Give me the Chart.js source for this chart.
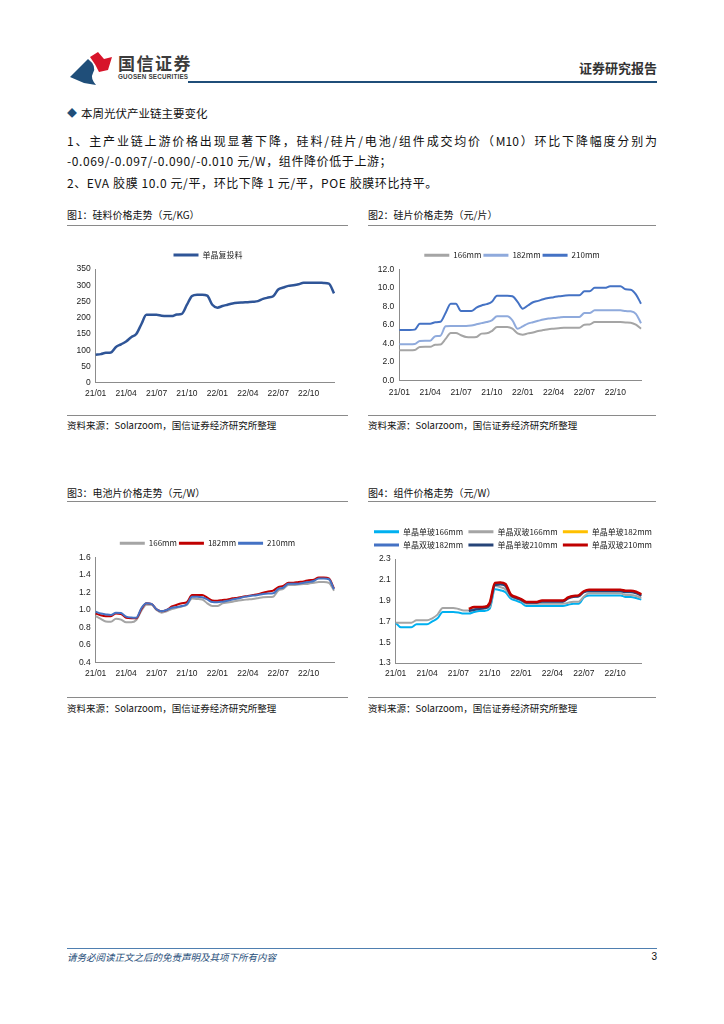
<!DOCTYPE html>
<html><head><meta charset="utf-8">
<script src="https://cdn.jsdelivr.net/npm/chart.js@4.4.0/dist/chart.umd.min.js"></script>
<style>
html,body{margin:0;padding:0;background:#fff;}
body{width:724px;height:1024px;position:relative;overflow:hidden;font-family:"Noto Sans CJK SC","Noto Sans",sans-serif;color:#111;}
.abs{position:absolute;white-space:nowrap;}
.title{font-size:10px;line-height:14px;color:#111;}
.src{font-size:9.5px;line-height:14px;color:#111;}
.rule{position:absolute;height:1px;background:#8a8a8a;}
.body{font-size:12px;line-height:16px;letter-spacing:0.6px;}
canvas{position:absolute;}
</style></head>
<body>
<svg class="abs" style="left:66px;top:48px" width="50" height="40" viewBox="66 48 50 40">
  <path d="M70,77 L88,59 Q97,66 93,73 Q90,78 96,85 L84,83 Z" fill="#1f4e79"/>
  <path d="M90,57 L98,52 L104,59 L112,57 L108,70 L99,72 Q96,65 90,57 Z" fill="#d7142a"/>
</svg>
<div class="abs" style="left:118px;top:52px;font-size:17px;line-height:22px;font-weight:700;color:#3c3c3c;letter-spacing:1.5px">国信证券</div>
<div class="abs" style="left:118px;top:73px;font-size:6.3px;line-height:8px;font-weight:700;color:#3c3c3c;letter-spacing:0.2px;font-family:'Liberation Sans',sans-serif">GUOSEN SECURITIES</div>
<div class="abs" style="right:67px;top:59px;font-size:13px;line-height:18px;font-weight:700;color:#333">证券研究报告</div>
<div class="abs" style="left:188px;top:81px;width:469px;height:2px;background:#1f4e79"></div>

<div class="abs" style="left:67px;top:105px;font-size:10px;line-height:16px;color:#1f4e79">◆</div>
<div class="abs" style="left:81px;top:105px;font-size:11.5px;line-height:16px">本周光伏产业链主要变化</div>
<div class="abs body" style="left:67px;top:133px;width:590px;text-align:justify;text-align-last:justify;letter-spacing:0">1、主产业链上游价格出现显著下降，硅料/硅片/电池/组件成交均价（M10）环比下降幅度分别为</div>
<div class="abs body" style="left:67px;top:153px">-0.069/-0.097/-0.090/-0.010 元/W，组件降价低于上游；</div>
<div class="abs body" style="left:67px;top:175px">2、EVA 胶膜 10.0 元/平，环比下降 1 元/平，POE 胶膜环比持平。</div>

<div class="abs title" style="left:67px;top:208px">图1：硅料价格走势（元/KG）</div>
<div class="rule" style="left:67px;top:225px;width:281px"></div>
<div class="abs title" style="left:368px;top:208px">图2：硅片价格走势（元/片）</div>
<div class="rule" style="left:368px;top:225px;width:288px"></div>
<canvas id="c1" width="292" height="167" style="left:62px;top:236px"></canvas>
<canvas id="c2" width="288" height="165" style="left:368px;top:236px"></canvas>
<div class="rule" style="left:67px;top:415px;width:281px"></div>
<div class="rule" style="left:368px;top:415px;width:288px"></div>
<div class="abs src" style="left:67px;top:418px">资料来源：Solarzoom，国信证券经济研究所整理</div>
<div class="abs src" style="left:368px;top:418px">资料来源：Solarzoom，国信证券经济研究所整理</div>

<div class="abs title" style="left:67px;top:486px">图3：电池片价格走势（元/W）</div>
<div class="rule" style="left:67px;top:501px;width:281px"></div>
<div class="abs title" style="left:368px;top:486px">图4：组件价格走势（元/W）</div>
<div class="rule" style="left:368px;top:501px;width:288px"></div>
<canvas id="c3" width="291" height="171" style="left:62px;top:512px"></canvas>
<canvas id="c4" width="290" height="171" style="left:368px;top:512px"></canvas>
<div class="rule" style="left:67px;top:697px;width:281px"></div>
<div class="rule" style="left:368px;top:697px;width:288px"></div>
<div class="abs src" style="left:67px;top:701px">资料来源：Solarzoom，国信证券经济研究所整理</div>
<div class="abs src" style="left:368px;top:701px">资料来源：Solarzoom，国信证券经济研究所整理</div>

<div class="abs" style="left:67px;top:948px;width:590px;height:1px;background:#4f7fb0"></div>
<div class="abs" style="left:67px;top:950px;font-size:9.5px;line-height:14px;font-style:italic;color:#1f4e79">请务必阅读正文之后的免责声明及其项下所有内容</div>
<div class="abs" style="right:67px;top:950px;font-size:10px;line-height:14px;color:#111;font-family:'Liberation Sans',sans-serif">3</div>

<script>
// ---- categories (half-month periods) ----
const periods = [
 '21/01/01','21/01/16','21/02/01','21/02/16','21/03/01','21/03/16','21/04/01','21/04/16',
 '21/05/01','21/05/16','21/06/01','21/06/16','21/07/01','21/07/16','21/08/01','21/08/16',
 '21/09/01','21/09/16','21/10/01','21/10/16','21/11/01','21/11/16','21/12/01','21/12/16',
 '22/01/01','22/01/16','22/02/01','22/02/16','22/03/01','22/03/16','22/04/01','22/04/16',
 '22/05/01','22/05/16','22/06/01','22/06/16','22/07/01','22/07/16','22/08/01','22/08/16',
 '22/09/01','22/09/16','22/10/01','22/10/16','22/11/01','22/11/16','22/12/01','22/12/16'];
const quarterTicks = ['21/01','21/04','21/07','21/10','22/01','22/04','22/07','22/10'];

// ---- 图1 硅料 ----
const polyMono = [86,88,92,93,110,118,127,140,150,180,209,209,209,206,205,205,210,212,240,267,271,271,268,240,
 231,236,240,244,246,247,248,249,251,258,262,266,287,293,298,300,303,308,308,308,308,307,305,275];

// ---- 图2 硅片 ----
const wafer166 = [3.27,3.27,3.27,3.3,3.63,3.65,3.65,3.88,3.9,4.5,5.14,5.14,4.9,4.7,4.67,4.7,5.07,5.1,5.35,5.78,5.78,5.78,5.6,5.1,
 4.96,5.1,5.2,5.35,5.45,5.55,5.6,5.65,5.7,5.71,5.71,5.71,6.03,6.05,6.32,6.32,6.32,6.32,6.32,6.32,6.28,6.25,6.03,5.6];
const wafer182 = [3.92,3.92,3.92,3.95,4.28,4.3,4.3,4.8,4.85,5.86,5.9,5.9,5.9,5.9,5.95,6.07,6.2,6.32,6.5,6.93,6.93,6.93,6.5,5.6,
 5.85,6.15,6.3,6.45,6.6,6.7,6.75,6.8,6.86,6.86,6.86,6.86,7.29,7.29,7.58,7.58,7.58,7.58,7.58,7.58,7.5,7.47,7.2,6.2];
const wafer210 = [5.46,5.46,5.46,5.5,6.14,6.14,6.14,6.3,6.35,7.3,8.3,8.3,7.5,7.5,7.5,7.87,8.1,8.25,8.5,9.16,9.16,9.16,9.1,8.5,
 7.75,8.1,8.45,8.6,8.77,8.9,9.0,9.1,9.15,9.2,9.2,9.2,9.63,9.63,10.0,10.0,10.0,10.17,10.17,10.17,9.84,9.8,9.3,8.3];

// ---- 图3 电池片 ----
const cell166 = [0.93,0.9,0.87,0.867,0.9,0.89,0.86,0.86,0.886,0.99,1.06,1.06,1.0,0.97,0.985,1.01,1.025,1.04,1.06,1.13,1.125,1.12,1.076,1.046,
 1.046,1.076,1.085,1.095,1.105,1.114,1.12,1.126,1.135,1.145,1.148,1.152,1.22,1.24,1.285,1.285,1.29,1.295,1.3,1.31,1.32,1.32,1.31,1.22];
const cell182 = [0.96,0.94,0.93,0.93,0.96,0.955,0.91,0.905,0.905,1.01,1.076,1.07,1.008,0.985,1.0,1.04,1.06,1.076,1.09,1.17,1.17,1.17,1.14,1.107,
 1.105,1.114,1.12,1.133,1.14,1.152,1.16,1.17,1.18,1.198,1.21,1.22,1.26,1.275,1.31,1.31,1.32,1.325,1.34,1.345,1.37,1.37,1.36,1.245];
const cell210 = [0.98,0.96,0.95,0.943,0.97,0.965,0.925,0.915,0.913,1.02,1.076,1.07,1.008,0.985,1.0,1.025,1.035,1.045,1.065,1.15,1.15,1.145,1.12,1.09,
 1.088,1.095,1.105,1.12,1.13,1.145,1.155,1.164,1.17,1.183,1.187,1.19,1.24,1.255,1.3,1.3,1.3,1.31,1.32,1.33,1.36,1.36,1.35,1.236];

// ---- 图4 组件 ----
const modS166 = [1.688,1.643,1.643,1.643,1.672,1.672,1.672,1.70,1.73,1.79,1.79,1.79,1.785,1.775,1.775,1.79,1.8,1.8,1.822,2.01,2.0,1.98,1.92,1.9,
 1.88,1.848,1.848,1.848,1.848,1.848,1.848,1.848,1.848,1.86,1.87,1.87,1.93,1.95,1.95,1.95,1.95,1.95,1.95,1.95,1.935,1.935,1.925,1.909];
const modD166 = [1.688,1.688,1.688,1.688,1.71,1.71,1.71,1.73,1.765,1.83,1.83,1.83,1.82,1.805,1.805,1.815,1.82,1.825,1.84,2.04,2.03,2.01,1.94,1.92,
 1.9,1.87,1.87,1.87,1.87,1.87,1.87,1.87,1.87,1.88,1.89,1.89,1.94,1.97,1.97,1.97,1.97,1.97,1.97,1.97,1.955,1.955,1.945,1.925];
const modS182 = [null,null,null,null,null,null,null,null,null,null,null,null,null,null,
 1.819,1.835,1.835,1.837,1.877,2.067,2.072,2.057,1.957,1.932,1.912,1.884,1.884,1.884,1.897,1.897,1.897,1.897,1.897,1.927,1.942,1.947,1.987,2.002,2.002,2.002,2.002,2.002,2.002,2.002,1.992,1.992,1.982,1.957];
const modD182 = [null,null,null,null,null,null,null,null,null,null,null,null,null,null,
 1.805,1.815,1.825,1.83,1.865,2.055,2.06,2.045,1.955,1.93,1.91,1.884,1.884,1.884,1.894,1.894,1.894,1.894,1.894,1.924,1.939,1.944,1.984,1.995,1.995,1.995,1.995,1.995,1.995,1.995,1.985,1.985,1.975,1.95];
const modS210 = [null,null,null,null,null,null,null,null,null,null,null,null,null,null,
 1.80,1.81,1.82,1.825,1.86,2.05,2.055,2.04,1.95,1.925,1.905,1.88,1.88,1.88,1.89,1.89,1.89,1.89,1.89,1.92,1.935,1.94,1.98,1.99,1.99,1.99,1.99,1.99,1.99,1.99,1.98,1.98,1.97,1.945];
const modD210 = [null,null,null,null,null,null,null,null,null,null,null,null,null,null,
 1.822,1.838,1.838,1.84,1.88,2.07,2.075,2.06,1.96,1.935,1.915,1.887,1.887,1.887,1.9,1.9,1.9,1.9,1.9,1.93,1.945,1.95,1.99,2.005,2.005,2.005,2.005,2.005,2.005,2.005,1.995,1.995,1.985,1.96];

function xTick(v, i) {
  const p = periods[i];
  const ym = p.slice(0, 5), d = p.slice(6);
  return (d === '01' && quarterTicks.includes(ym)) ? ym : '';
}

const tickFont = {family: "'Liberation Sans', Arial, sans-serif", size: 8.5};
const legendFont = {family: "'Noto Sans CJK SC', sans-serif", size: 8};

function makeChart(id, c) {
  const n = c.series.length;
  return new Chart(document.getElementById(id), {
    type: 'line',
    data: {
      labels: periods,
      datasets: c.series.map((s, i) => ({
        label: s.label, data: s.data, borderColor: s.color, backgroundColor: s.color,
        borderWidth: s.width || 2, pointRadius: 0, pointHoverRadius: 0,
        cubicInterpolationMode: 'monotone', spanGaps: false,
        order: n - 1 - i
      }))
    },
    options: {
      responsive: false, animation: false, devicePixelRatio: 1,
      layout: {padding: {top: c.padTop, left: 0, right: 0, bottom: 0}},
      plugins: {
        tooltip: {enabled: false},
        legend: {
          display: true, position: 'top',
          labels: {
            boxWidth: 25, boxHeight: 3, padding: c.legendPad, color: '#222', font: legendFont,
            sort: (a, b) => a.datasetIndex - b.datasetIndex,
            generateLabels: ch => Chart.defaults.plugins.legend.labels.generateLabels(ch).map(l => Object.assign(l, {lineWidth: 0}))
          }
        }
      },
      scales: {
        x: {
          grid: {display: false, drawTicks: false},
          border: {display: true, color: '#8c8c8c', width: 1},
          ticks: {autoSkip: false, maxRotation: 0, minRotation: 0, padding: c.xPad, font: tickFont, color: '#222', callback: xTick},
          afterFit: s => { s.height = c.xH; s.paddingRight = c.padRight; }
        },
        y: {
          min: c.min, max: c.max,
          grid: {display: false, drawTicks: false},
          border: {display: true, color: '#8c8c8c', width: 1},
          ticks: {stepSize: c.step, padding: 5, font: tickFont, color: '#222', callback: v => Number(v).toFixed(c.dec)},
          afterFit: s => { s.width = c.yW; s.paddingTop = c.plotTop; }
        }
      }
    }
  });
}

makeChart('c1', {padTop: 8.7, legendPad: 2, yW: 33.7, plotTop: 33, padRight: 20, xH: 20.3, xPad: 5.5,
  min: 0, max: 350, step: 50, dec: 0,
  series: [{label: '单晶复投料', data: polyMono, color: '#2f5597', width: 2.5}]});

makeChart('c2', {padTop: 8.7, legendPad: 2, yW: 31.3, plotTop: 33.3, padRight: 15, xH: 20.3, xPad: 6.5,
  min: 0, max: 12, step: 2, dec: 1,
  series: [
    {label: '166mm', data: wafer166, color: '#a5a5a5'},
    {label: '182mm', data: wafer182, color: '#8faadc'},
    {label: '210mm', data: wafer210, color: '#4472c4'}]});

makeChart('c3', {padTop: 9, legendPad: 2, yW: 33.7, plotTop: 45.3, padRight: 19, xH: 20.3, xPad: 6,
  min: 0.4, max: 1.6, step: 0.2, dec: 1,
  series: [
    {label: '166mm', data: cell166, color: '#a5a5a5'},
    {label: '182mm', data: cell182, color: '#c00000'},
    {label: '210mm', data: cell210, color: '#4472c4'}]});

makeChart('c4', {padTop: 5.4, legendPad: 5.3, yW: 27.7, plotTop: 47, padRight: 16.7, xH: 20, xPad: 6,
  min: 1.3, max: 2.3, step: 0.2, dec: 1,
  series: [
    {label: '单晶单玻166mm', data: modS166, color: '#00b0f0'},
    {label: '单晶双玻166mm', data: modD166, color: '#a5a5a5'},
    {label: '单晶单玻182mm', data: modS182, color: '#ffc000'},
    {label: '单晶双玻182mm', data: modD182, color: '#4472c4'},
    {label: '单晶单玻210mm', data: modS210, color: '#264478'},
    {label: '单晶双玻210mm', data: modD210, color: '#c00000', width: 2.5}]});
</script>
</body></html>
